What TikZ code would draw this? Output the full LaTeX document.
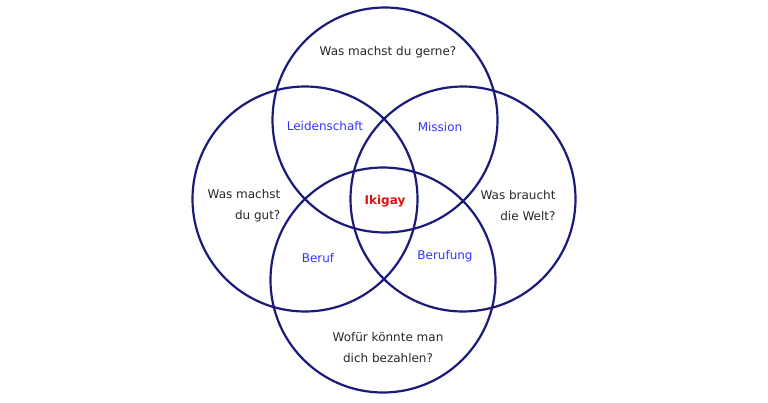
\documentclass[tikz,border=0pt]{standalone}
\usepackage{fontspec}
\setmainfont{DejaVu Sans}
\usepackage{xcolor}
\definecolor{ringblue}{HTML}{1A1A7A}
\definecolor{labelblue}{HTML}{3333FF}
\definecolor{ikired}{HTML}{E01010}
\tikzset{
  question/.style={font=\fontsize{12}{21}\selectfont, text=black!85},
  overlap/.style={font=\fontsize{12}{14}\selectfont, text=labelblue},
}
\begin{document}
\begin{tikzpicture}[x=1pt, y=-1pt]
        \useasboundingbox (0,0) rectangle (768,402);
        \foreach \x/\y/\n in {385/120/top, 305/199/left, 463/199/right, 383/280/bottom}{
        \draw[ringblue, line width=2.2pt] (\x,\y) circle (112.5) coordinate (\n);}
        \node[question] (gerne) at (388,52) {Was machst du gerne?};
        \node[question, align=right] (gut) at (244,206) {Was machst\\du gut?};
        \node[question, align=right] (welt) at (518,206) {Was braucht\\die Welt?};
        \node[question, align=center] (bezahlen) at (388,348) {Wofür könnte man\\dich bezahlen?};
        \node[overlap] (leidenschaft) at (325,126) {Leidenschaft};
        \node[overlap] (mission) at (440,127) {Mission};
        \node[overlap] (beruf) at (318,258) {Beruf};
        \node[overlap] (berufung) at (445,256) {Berufung};
        \node[font=\fontsize{12}{14}\selectfont\bfseries, text=ikired] (ikigay) at (385,201) {Ikigay};
    \end{tikzpicture}
\end{document}
